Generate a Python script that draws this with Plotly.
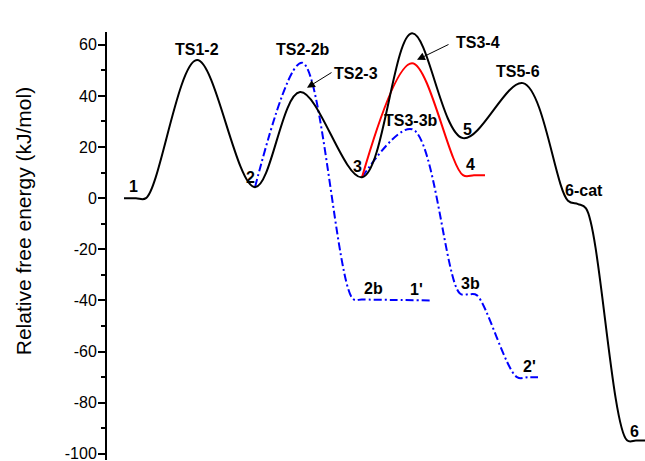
import plotly.graph_objects as go

# Reaction coordinate (arbitrary units) and relative free energies (kJ/mol)
main_x = [1.7, 2.9, 3.9, 9.0, 14.8, 19.3, 25.5, 30.5, 35.6, 41.6, 46.1, 47.1, 47.9, 52.0, 52.9, 53.8]
main_y = [0, 0, 0, 54, 4.3, 41.5, 8.2, 64.5, 23.5, 45, -1.0, -2.3, -4.0, -94.7, -94.8, -94.8]

red_x = [25.5, 30.5, 35.6, 36.7, 37.8]
red_y = [8.2, 52.8, 9.0, 9.0, 9.0]

blue1_x = [14.8, 19.5, 24.6, 25.5, 28.6, 32.5]
blue1_y = [4.3, 53, -39.4, -39.6, -39.8, -40]

blue2_x = [25.5, 30.5, 35.3, 36.3, 37.0, 41.0, 42.1, 43.1]
blue2_y = [8.2, 27, -37.3, -37.5, -38.0, -70, -70, -70]

tick_vals = [-100, -80, -60, -40, -20, 0, 20, 40, 60]
tick_text = ["-100", "-80", "-60", "-40", "-20", "0", "20", "40", "60"]

labels = ["1", "TS1-2", "2", "TS2-2b", "TS2-3", "3", "TS3-5", "TS3-4", "TS3-3b",
          "5", "4", "TS5-6", "6-cat", "2b", "1'", "3b", "2'", "6"]
label_x = [2.6, 9.0, 14.3, 19.6, 24.9, 25.0, 30.3, 37.1, 30.4,
           36.0, 36.3, 41.1, 47.7, 26.6, 30.9, 36.3, 42.2, 52.7]
label_y = [4.5, 58.1, 8.0, 58.1, 48.7, 12.3, 70.2, 60.8, 30.3,
           26.8, 13.1, 49.4, 2.9, -35.4, -35.8, -33.5, -66.0, -91.4]

# arrows: (tail_x, tail_y, head_x, head_y)
arrows = [(22.6, 49.5, 20.0, 43.2), (34.3, 60.4, 31.0, 54.1)]

fig = go.Figure()
blue_dash = "8px,3px,2px,3px"
fig.add_trace(go.Scatter(x=blue1_x, y=blue1_y, mode="lines",
                         line=dict(color="#0000ff", width=2, dash=blue_dash, shape="spline", smoothing=1)))
fig.add_trace(go.Scatter(x=blue2_x, y=blue2_y, mode="lines",
                         line=dict(color="#0000ff", width=2, dash=blue_dash, shape="spline", smoothing=1)))
fig.add_trace(go.Scatter(x=red_x, y=red_y, mode="lines",
                         line=dict(color="#ff0000", width=2, shape="spline", smoothing=1)))
fig.add_trace(go.Scatter(x=main_x, y=main_y, mode="lines",
                         line=dict(color="black", width=2, shape="spline", smoothing=1)))

for t, x, y in zip(labels, label_x, label_y):
    fig.add_annotation(x=x, y=y, text=t, showarrow=False,
                       font=dict(family="Liberation Sans, Arial", size=16, color="black", weight="bold"),
                       xanchor="center", yanchor="middle")

for tx, ty, hx, hy in arrows:
    fig.add_annotation(x=hx, y=hy, ax=tx, ay=ty, axref="x", ayref="y", xref="x", yref="y",
                       text="", showarrow=True, arrowhead=2, arrowsize=1.6, arrowwidth=1, arrowcolor="black")

# y-axis title
fig.add_annotation(x=-0.156, y=0.558, xref="paper", yref="paper", text="Relative free energy (kJ/mol)",
                   textangle=-90, showarrow=False, xanchor="center", yanchor="middle",
                   font=dict(family="Liberation Sans, Arial", size=21, color="black"))

fig.update_layout(
    width=645, height=461,
    margin=dict(l=107, r=0, t=32, b=1),
    plot_bgcolor="white", paper_bgcolor="white",
    showlegend=False,
    font=dict(family="Liberation Sans, Arial", color="black"),
    xaxis=dict(range=[0, 53.8], visible=False),
    yaxis=dict(range=[-102.4, 65], showline=True, linecolor="black", linewidth=2,
               ticks="outside", ticklen=7, tickwidth=2, tickcolor="black",
               tickvals=tick_vals, ticktext=tick_text,
               tickfont=dict(size=16, color="black"), ticklabelstandoff=-2,
               ticklabeloverflow="allow",
               showgrid=False, zeroline=False,
               minor=dict(ticks="outside", ticklen=4, tickwidth=2, tickcolor="black", dtick=10, tick0=0)),
)

fig.write_html("out.html", config={"displayModeBar": False},
               post_script="document.body.style.margin='0';document.body.style.overflow='hidden';")
